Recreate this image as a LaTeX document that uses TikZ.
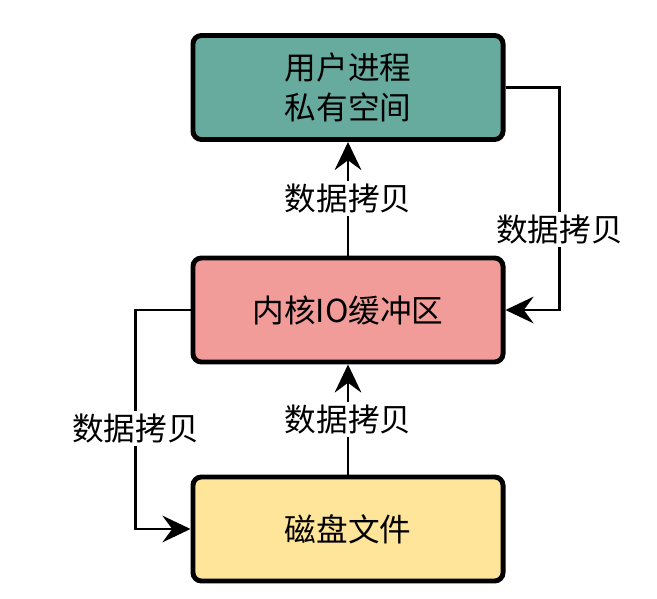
\documentclass[tikz,border=0pt]{standalone}
\usepackage{fontspec}
\setmainfont{Noto Sans CJK SC}
\usetikzlibrary{arrows.meta}
\definecolor{procgreen}{HTML}{67AB9F}
\definecolor{kernred}{HTML}{F19C99}
\definecolor{diskyellow}{HTML}{FFE599}

\begin{document}
\begin{tikzpicture}[x=0.025cm, y=-0.025cm,
  block/.style={draw=black, line width=3.5pt, rounded corners=6pt,
    minimum width=7.75cm, minimum height=2.6cm, align=center,
    font=\fontsize{22.5}{28}\selectfont},
  copy/.style={-{Stealth[length=20pt, width=19pt, inset=7pt]}, line width=1.6pt},
  tag/.style={fill=white, inner sep=2pt, font=\fontsize{22.5}{28}\selectfont}]
  \useasboundingbox (0,0) rectangle (657,598);
  % the three buffers
  \node[block, fill=procgreen] (user) at (348,87.5) {用户进程\\私有空间};
  \node[block, fill=kernred] (kern) at (348,310) {内核IO缓冲区};
  \node[block, fill=diskyellow] (disk) at (348,529) {磁盘文件};
  % straight copies
  \draw[copy] (kern.north) -- node[tag] {数据拷贝} (user.south);
  \draw[copy] (disk.north) -- node[tag] {数据拷贝} (kern.south);
  % side copies
  \draw[copy] (user.east) -- ++(54,0) |- node[tag, pos=0.32] {数据拷贝} (kern.east);
  \draw[copy] (kern.west) -- ++(-55,0) |- node[tag, pos=0.27] {数据拷贝} (disk.west);
\end{tikzpicture}
\end{document}
